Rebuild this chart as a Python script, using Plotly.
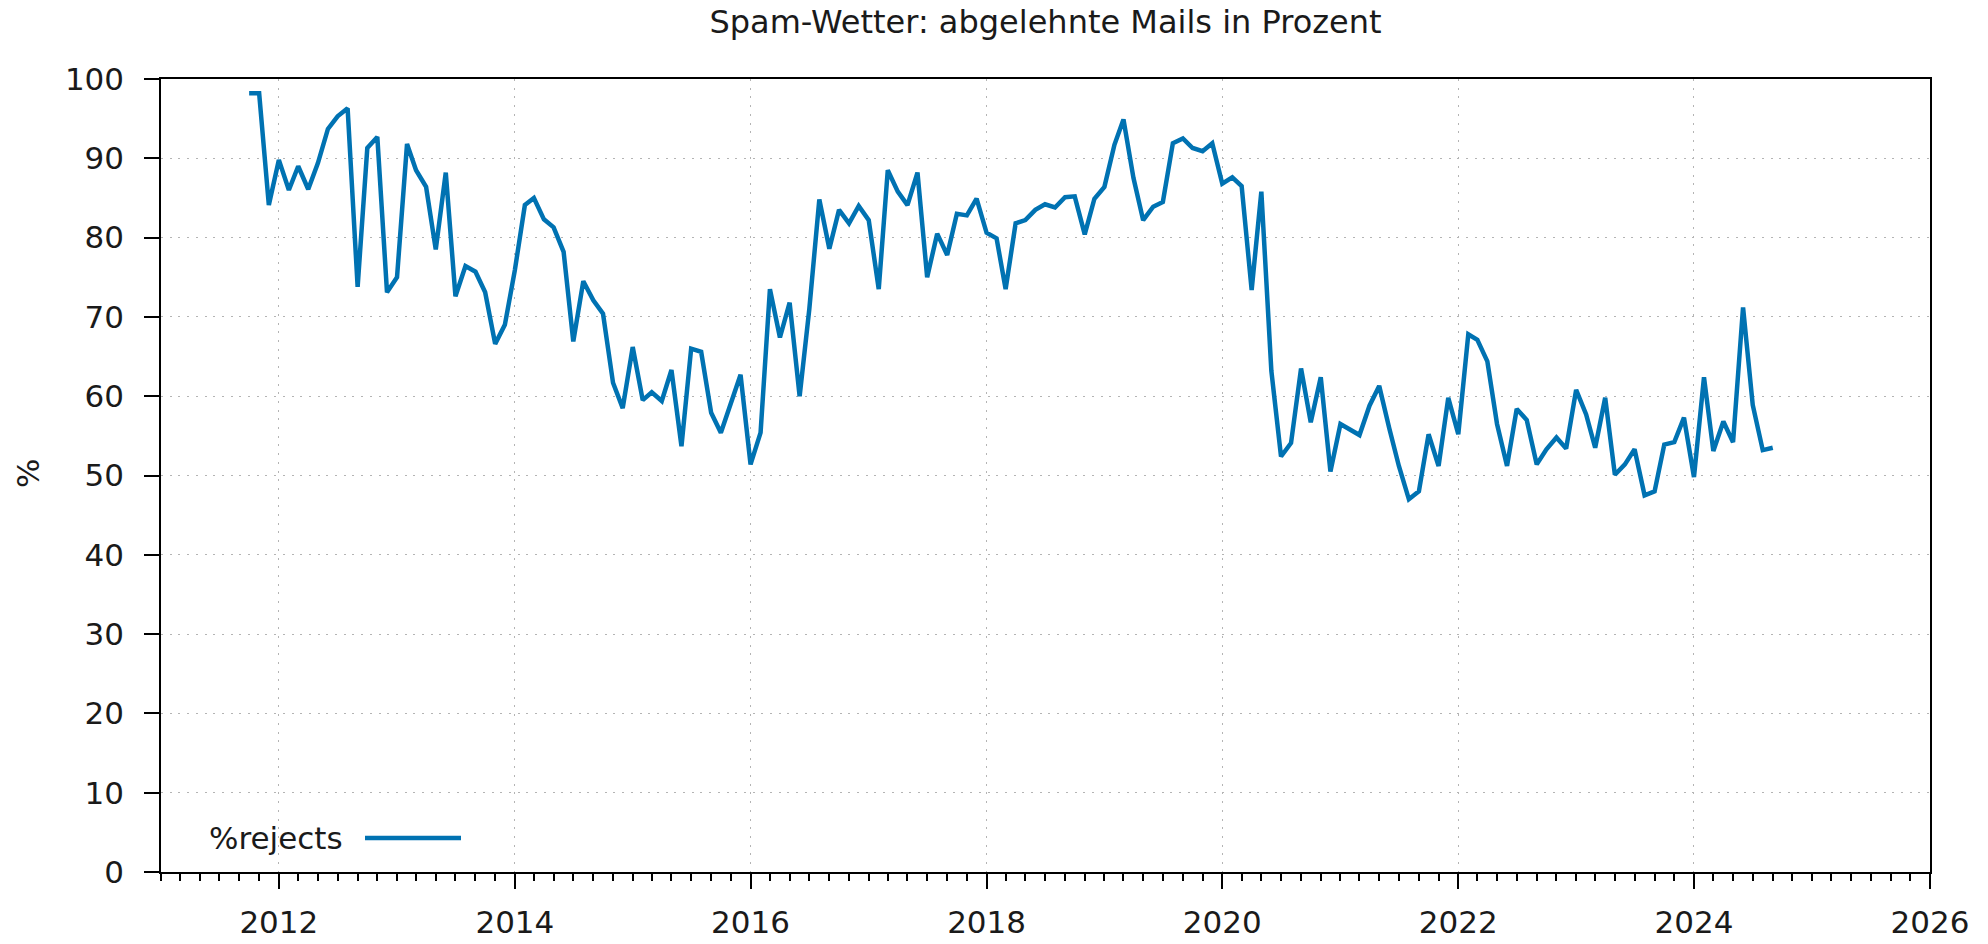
import plotly.graph_objects as go

# ---- data (monthly, Oct 2011 .. Sep 2024) ----
start_year = 2011
start_month = 10
rejects = [
    # 2011 Oct-Dec
    98.2, 98.2, 84.1,
    # 2012
    89.8, 86.0, 89.0, 86.1, 89.4, 93.7, 95.3, 96.3, 73.8, 91.3, 92.7, 73.1,
    # 2013
    75.0, 91.8, 88.5, 86.4, 78.5, 88.2, 72.6, 76.4, 75.7, 73.1, 66.6, 69.0,
    # 2014
    75.9, 84.1, 85.0, 82.3, 81.3, 78.2, 66.9, 74.5, 72.1, 70.4, 61.7, 58.5,
    # 2015
    66.2, 59.5, 60.5, 59.4, 63.3, 53.7, 66.0, 65.6, 57.9, 55.4, 59.0, 62.7,
    # 2016
    51.4, 55.4, 73.5, 67.4, 71.8, 60.0, 71.0, 84.8, 78.6, 83.5, 81.8, 84.0,
    # 2017
    82.2, 73.5, 88.5, 85.8, 84.1, 88.2, 75.0, 80.5, 77.8, 83.0, 82.8, 84.9,
    # 2018
    80.6, 79.9, 73.5, 81.8, 82.2, 83.5, 84.2, 83.8, 85.1, 85.2, 80.4, 84.9,
    # 2019
    86.4, 91.7, 94.9, 87.5, 82.2, 83.9, 84.5, 91.9, 92.5, 91.3, 90.9, 91.9,
    # 2020
    86.8, 87.6, 86.5, 73.4, 85.8, 63.2, 52.4, 54.1, 63.5, 56.7, 62.4, 50.5,
    # 2021
    56.5, 55.8, 55.1, 58.8, 61.3, 56.0, 51.2, 47.0, 48.0, 55.2, 51.2, 59.8,
    # 2022
    55.2, 67.8, 67.1, 64.4, 56.5, 51.2, 58.4, 57.0, 51.4, 53.3, 54.8, 53.4,
    # 2023
    60.8, 57.7, 53.5, 59.8, 50.1, 51.4, 53.3, 47.5, 48.0, 53.9, 54.2, 57.3,
    # 2024 Jan-Sep
    49.8, 62.4, 53.1, 56.8, 54.2, 71.2, 58.9, 53.2, 53.5,
]

dates = []
y, m = start_year, start_month
for _ in rejects:
    dates.append(f"{y:04d}-{m:02d}-01")
    m += 1
    if m > 12:
        m = 1
        y += 1

title_text = "Spam-Wetter: abgelehnte Mails in Prozent"
series_name = "%rejects"
y_label = "%"

FONT = "DejaVu Sans"
FS = 31
FS_TITLE = 32
LINE_COLOR = "#0072b2"
GRID_COLOR = "#b4b4b4"
GRID_DASH = "2px,6.7px"

# page has an 8px body margin -> figure coords = screen coords - 8
OFF = 8
W, H = 1988 - 2 * OFF, 944 - 2 * OFF
# plot area on screen: x 161..1930, y 79..872
L = 161 - OFF
R = W - (1930 - OFF)
T = 79 - OFF
B = H - (872 - OFF)

fig = go.Figure()
fig.add_trace(go.Scatter(
    x=dates, y=rejects, mode="lines", name=series_name,
    line=dict(color=LINE_COLOR, width=4.5), showlegend=False,
))

fig.update_layout(
    width=W, height=H,
    margin=dict(l=L, r=R, t=T, b=B, autoexpand=False),
    paper_bgcolor="white", plot_bgcolor="white",
    font=dict(family=FONT, size=FS, color="#1a1a1a"),
    title=dict(text=title_text, xref="paper", x=0.5, xanchor="center",
               y=1 - (22 - OFF) / H, yanchor="middle",
               font=dict(size=FS_TITLE, family=FONT)),
)

fig.update_xaxes(
    type="date", range=["2011-01-01", "2026-01-01"],
    dtick="M24", tick0="2012-01-01", tickformat="%Y",
    ticks="outside", ticklen=15, tickwidth=1.5, tickcolor="black",
    ticklabelstandoff=7, automargin=False,
    showline=True, linecolor="black", linewidth=1.5, mirror=True,
    showgrid=True, gridcolor=GRID_COLOR, griddash=GRID_DASH, gridwidth=1.2,
    minor=dict(dtick="M2", tick0="2011-01-01", ticks="outside", ticklen=7,
               tickwidth=1.5, tickcolor="black", showgrid=False),
    zeroline=False,
)
fig.update_yaxes(
    range=[0, 100], dtick=10, tick0=0,
    ticks="outside", ticklen=15, tickwidth=1.5, tickcolor="black",
    ticklabelstandoff=14, automargin=False,
    showline=True, linecolor="black", linewidth=1.5, mirror=True,
    showgrid=True, gridcolor=GRID_COLOR, griddash=GRID_DASH, gridwidth=1.2,
    zeroline=False,
)

pw = W - L - R
ph = H - T - B
def px_x(px):
    return (px - OFF - L) / pw
def px_y(py):
    return 1 - (py - OFF - T) / ph

# y axis label
fig.add_annotation(text=y_label, xref="paper", yref="paper",
                   x=px_x(28), y=px_y(474), showarrow=False, textangle=-90,
                   xanchor="center", yanchor="middle",
                   font=dict(size=FS, family=FONT))

# key (gnuplot style: text, then line sample)
fig.add_annotation(text=series_name, xref="paper", yref="paper",
                   x=px_x(345), y=px_y(838), showarrow=False,
                   xanchor="right", yanchor="middle",
                   font=dict(size=FS, family=FONT))
fig.add_shape(type="line", xref="paper", yref="paper",
              x0=px_x(365), x1=px_x(461), y0=px_y(838), y1=px_y(838),
              line=dict(color=LINE_COLOR, width=4.5))

fig.write_html("out.html")
